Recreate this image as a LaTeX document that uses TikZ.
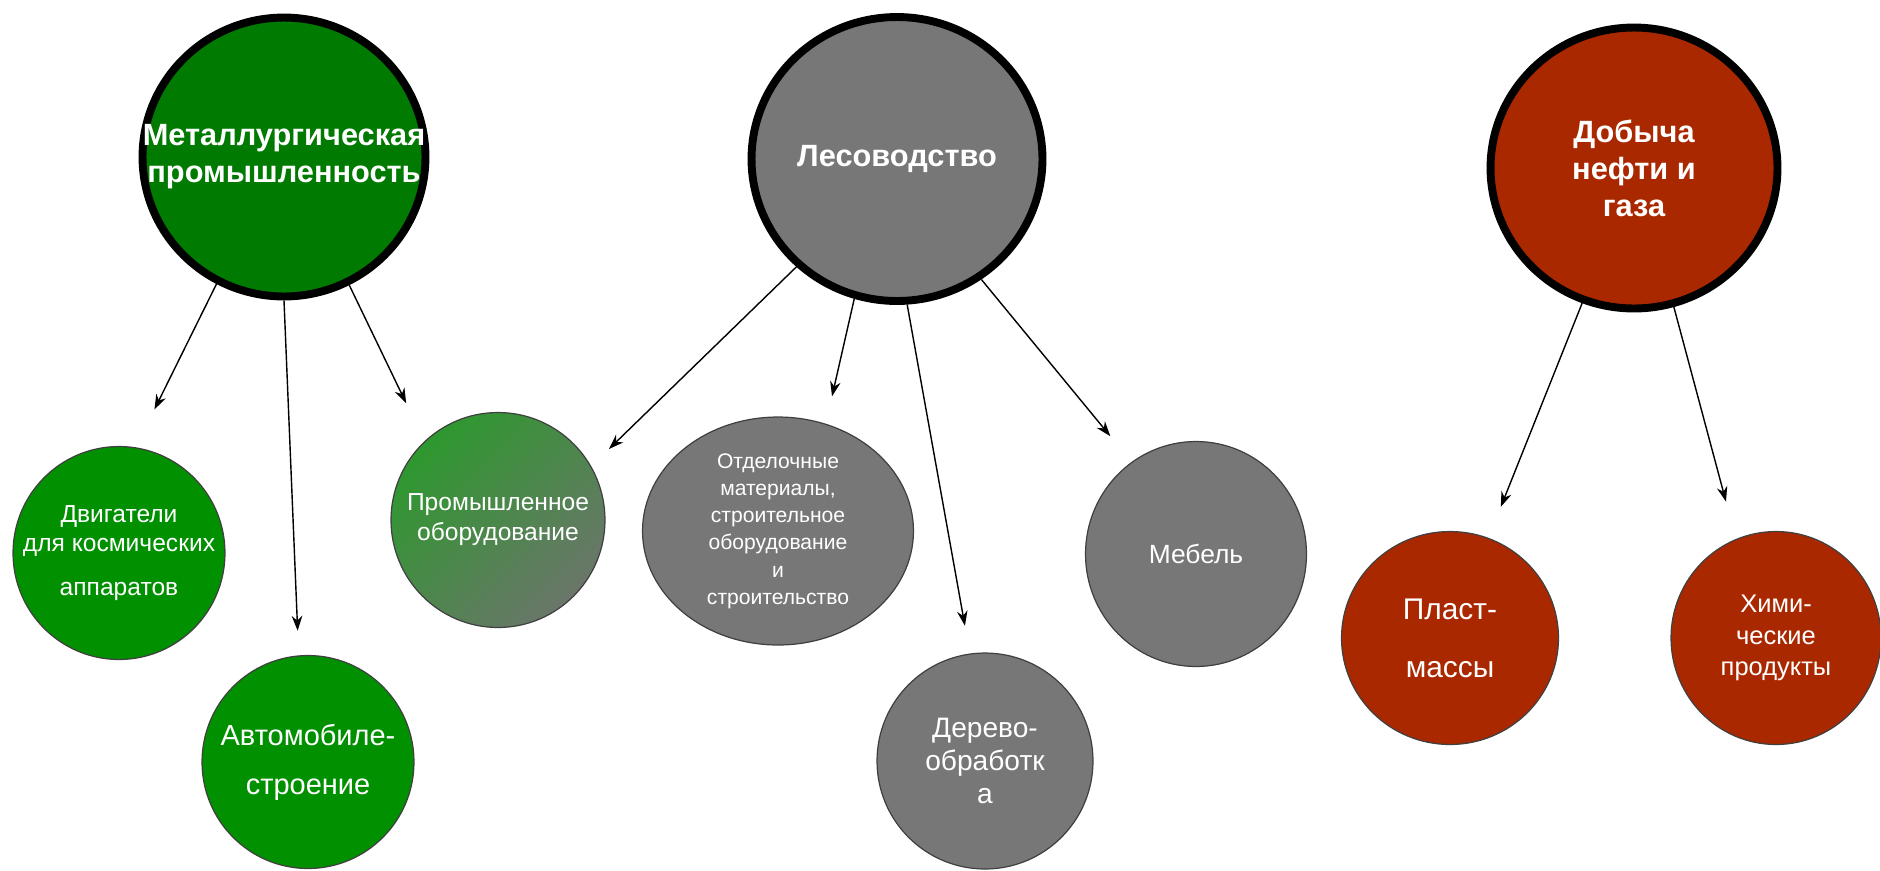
\documentclass[tikz,border=0pt]{standalone}
\usepackage{fontspec}
\setmainfont{Liberation Sans}
\usetikzlibrary{positioning,arrows.meta,shapes.geometric}
\definecolor{MetGreen}{RGB}{0,122,0}
\definecolor{LeafGreen}{RGB}{0,144,0}
\definecolor{WoodGray}{RGB}{119,119,119}
\definecolor{OilRed}{RGB}{170,40,0}
\definecolor{MixGreen}{RGB}{46,152,46}
\definecolor{MixGray}{RGB}{106,118,106}

\begin{document}
\begin{tikzpicture}[x=0.02cm, y=-0.02cm,
    hub/.style={ellipse, draw=black, line width=4.5pt, inner sep=0pt},
    leaf/.style={ellipse, draw=black!75, line width=0.7pt, inner sep=0pt},
    hubtxt/.style={text=white, align=center, font=\bfseries\fontsize{17.5}{21}\selectfont},
    leaftxt/.style={text=white, align=center},
    arr/.style={-{Stealth[length=8.5pt,width=6pt]}, line width=0.8pt, black},
]
\useasboundingbox (0,0) rectangle (1880,870);

\node[hub, fill=MetGreen, minimum width=5.66cm, minimum height=5.58cm,
    label={[hubtxt]center:{Металлургическая\\промышленность}}] (met) at (284,157) {};
\node[hub, fill=WoodGray, minimum width=5.82cm, minimum height=5.68cm,
    label={[hubtxt]center:{Лесоводство}}] (les) at (897,159) {};
\node[hub, fill=OilRed, minimum width=5.74cm, minimum height=5.62cm,
    label={[hubtxt]center:{Добыча\\нефти и\\газа}}] (dob) at (1634,168) {};

\node[leaf, fill=LeafGreen, minimum width=4.24cm, minimum height=4.26cm,
    label={[leaftxt, font=\fontsize{14}{17}\selectfont]center:{Двигатели\\для космических\\[8pt]аппаратов}}] (dvig) at (119,553) {};
\node[leaf, fill=LeafGreen, minimum width=4.24cm, minimum height=4.26cm,
    label={[leaftxt, font=\fontsize{16.5}{28}\selectfont]center:{Автомобиле-\\строение}}] (avto) at (308,762) {};
\node[leaf, top color=MixGreen, bottom color=MixGray, shading angle=45,
    minimum width=4.28cm, minimum height=4.3cm,
    label={[leaftxt, font=\fontsize{14}{17}\selectfont]center:{Промышленное\\оборудование}}] (prom) at (498,520) {};
\node[leaf, fill=WoodGray, minimum width=5.42cm, minimum height=4.56cm,
    label={[leaftxt, font=\fontsize{12}{15.5}\selectfont]center:{Отделочные\\материалы,\\строительное\\оборудование\\и\\строительство}}] (otd) at (778,531) {};
\node[leaf, fill=WoodGray, minimum width=4.32cm, minimum height=4.32cm,
    label={[leaftxt, font=\fontsize{16}{19}\selectfont]center:{Дерево-\\обработк\\а}}] (der) at (985,761) {};
\node[leaf, fill=WoodGray, minimum width=4.42cm, minimum height=4.5cm,
    label={[leaftxt, font=\fontsize{15}{18}\selectfont]center:{Мебель}}] (meb) at (1196,554) {};
\node[leaf, fill=OilRed, minimum width=4.34cm, minimum height=4.26cm,
    label={[leaftxt, font=\fontsize{17}{33}\selectfont]center:{Пласт-\\массы}}] (plast) at (1450,638) {};
\node[leaf, fill=OilRed, minimum width=4.2cm, minimum height=4.26cm,
    label={[leaftxt, font=\fontsize{14.5}{18}\selectfont]center:{Хими-\\ческие\\продукты}}] (khim) at (1776,638) {};

\draw[arr, shorten >=24pt] (met.-118) -- (dvig.81);
\draw[arr, shorten >=14pt] (met.-90) -- (avto.95);
\draw[arr, shorten >=24pt] (met.-63) -- (prom.133);
\draw[arr, shorten >=14pt] (les.-133) -- (prom.30);
\draw[arr, shorten >=16pt] (les.-107) -- (otd.66);
\draw[arr, shorten >=16pt] (les.-86) -- (der.98);
\draw[arr, shorten >=19pt] (les.-55) -- (meb.125);
\draw[arr, shorten >=19pt] (dob.-111) -- (plast.69);
\draw[arr, shorten >=22pt] (dob.-74) -- (khim.112);
\end{tikzpicture}
\end{document}
